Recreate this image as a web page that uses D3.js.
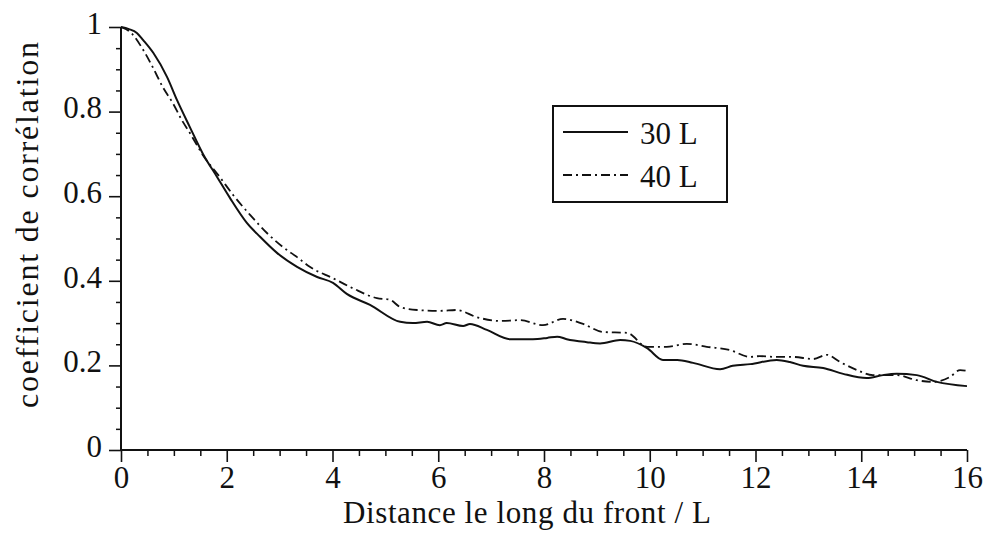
<!DOCTYPE html>
<html>
<head>
<meta charset="utf-8">
<script src="https://cdn.jsdelivr.net/npm/d3@7"></script>
<style>
  html, body { margin: 0; padding: 0; background: #fff; }
  svg { display: block; }
  svg text { font-family: "Liberation Serif", "DejaVu Serif", "Noto Serif", "Times New Roman", Times, serif; fill: #111; }
</style>
</head>
<body>
<svg id="chart" width="986" height="536"></svg>
<script>
// ---- data ----
const xs30 = [0, 0.15, 0.3, 0.42, 0.61, 0.87, 1.06, 1.30, 1.55, 1.82, 2.06, 2.38, 2.63, 2.95, 3.33, 3.71, 4.01, 4.27, 4.71, 5.28, 5.52, 5.79, 6.03, 6.16, 6.47, 6.60, 6.92, 7.36, 7.79, 8.06, 8.25, 8.43, 8.81, 9.06, 9.44, 9.63, 9.95, 10.25, 10.52, 10.82, 11.33, 11.57, 11.9, 12.4, 12.65, 12.9, 13.28, 13.66, 14.1, 14.41, 14.67, 15.05, 15.43, 16.0];
const ys30 = [1.0, 0.995, 0.986, 0.969, 0.939, 0.882, 0.827, 0.764, 0.700, 0.645, 0.596, 0.537, 0.504, 0.466, 0.433, 0.409, 0.395, 0.369, 0.343, 0.303, 0.300, 0.303, 0.295, 0.300, 0.293, 0.298, 0.284, 0.262, 0.262, 0.265, 0.268, 0.262, 0.255, 0.252, 0.260, 0.258, 0.241, 0.213, 0.213, 0.206, 0.191, 0.199, 0.203, 0.213, 0.208, 0.199, 0.194, 0.180, 0.170, 0.177, 0.180, 0.177, 0.161, 0.151];

const xs40 = [0, 0.2, 0.40, 0.6, 0.79, 0.98, 1.15, 1.3, 1.55, 1.87, 2.12, 2.44, 2.76, 3.06, 3.33, 3.57, 4.01, 4.39, 4.84, 5.09, 5.28, 5.60, 6.03, 6.35, 6.73, 7.17, 7.55, 7.98, 8.36, 8.74, 9.12, 9.57, 9.95, 10.32, 10.7, 11.08, 11.52, 11.9, 12.08, 12.4, 12.71, 13.09, 13.35, 13.6, 13.92, 14.22, 14.67, 15.05, 15.36, 15.68, 15.87, 16.0];
const ys40 = [1.0, 0.985, 0.95, 0.905, 0.858, 0.82, 0.78, 0.75, 0.697, 0.645, 0.603, 0.556, 0.513, 0.48, 0.456, 0.433, 0.406, 0.382, 0.359, 0.355, 0.338, 0.331, 0.329, 0.331, 0.314, 0.305, 0.307, 0.295, 0.310, 0.298, 0.279, 0.277, 0.244, 0.244, 0.251, 0.244, 0.236, 0.220, 0.222, 0.220, 0.220, 0.215, 0.225, 0.208, 0.189, 0.177, 0.177, 0.165, 0.161, 0.173, 0.189, 0.187];

const seriesNames = ["30 L", "40 L"];
const xTickValues = [0, 2, 4, 6, 8, 10, 12, 14, 16];
const yTickValues = [0, 0.2, 0.4, 0.6, 0.8, 1];
const yTickLabels = ["0", "0.2", "0.4", "0.6", "0.8", "1"];
const xTitle = "Distance le long du front / L";
const yTitle = "coefficient de corrélation";

// ---- drawing ----
const svg = d3.select("#chart");
const x = d3.scaleLinear().domain([0, 16]).range([121, 967]);
const y = d3.scaleLinear().domain([0, 1]).range([450, 27]);

const ink = "#111";
const serif = "'Liberation Serif', 'DejaVu Serif', 'Noto Serif', 'Times New Roman', Times, serif";

// minor ticks
const xMinor = d3.range(0, 16.001, 0.5).filter(v => Math.abs(v % 2) > 1e-6);
const yMinor = d3.range(0, 1.0001, 0.05).map(v => +v.toFixed(2)).filter(v => Math.abs((v * 10) % 2) > 1e-6);

const gx = svg.append("g").attr("transform", `translate(0,${y(0)})`);
gx.call(d3.axisBottom(x).tickValues(xMinor).tickSize(6).tickFormat(""));
gx.selectAll(".tick line").attr("stroke", ink).attr("stroke-width", 1.5);
const gx2 = svg.append("g").attr("transform", `translate(0,${y(0)})`);
gx2.call(d3.axisBottom(x).tickValues(xTickValues).tickSize(12).tickPadding(2).tickFormat(d3.format("d")));
gx2.attr("font-family", serif);
gx2.selectAll(".tick line").attr("stroke", ink).attr("stroke-width", 1.6);
gx2.selectAll(".tick text").attr("font-size", 31).attr("fill", ink).attr("dy", "0.78em");
svg.selectAll(".domain").remove();

const gy = svg.append("g").attr("transform", `translate(${x(0)},0)`);
gy.call(d3.axisLeft(y).tickValues(yMinor).tickSize(5).tickFormat(""));
gy.selectAll(".tick line").attr("stroke", ink).attr("stroke-width", 1.5);
const gy2 = svg.append("g").attr("transform", `translate(${x(0)},0)`);
gy2.call(d3.axisLeft(y).tickValues(yTickValues).tickSize(12).tickPadding(7).tickFormat((d, i) => yTickLabels[i]));
gy2.attr("font-family", serif);
gy2.selectAll(".tick line").attr("stroke", ink).attr("stroke-width", 1.6);
gy2.selectAll(".tick text").attr("font-size", 31).attr("fill", ink).attr("dy", "0.2em");
svg.selectAll(".domain").remove();

// axis lines
svg.append("line").attr("x1", x(0)).attr("x2", x(16)).attr("y1", y(0)).attr("y2", y(0)).attr("stroke", ink).attr("stroke-width", 2);
svg.append("line").attr("x1", x(0)).attr("x2", x(0)).attr("y1", y(0)).attr("y2", y(1)).attr("stroke", ink).attr("stroke-width", 2);

// titles
svg.append("text").attr("x", 527).attr("y", 523).attr("text-anchor", "middle").attr("font-size", 31)
  .attr("font-family", serif).attr("textLength", 368).attr("lengthAdjust", "spacing").text(xTitle);
svg.append("text").attr("transform", `translate(38,225) rotate(-90)`).attr("text-anchor", "middle").attr("font-size", 32)
  .attr("font-family", serif).attr("textLength", 366).attr("lengthAdjust", "spacing").text(yTitle);

// lines
const line = d3.line().x(d => x(d[0])).y(d => y(d[1])).curve(d3.curveMonotoneX);
const d30 = xs30.map((v, i) => [v, ys30[i]]);
const d40 = xs40.map((v, i) => [v, ys40[i]]);
const dashes = "9,4,2,4";

svg.append("path").datum(d40).attr("d", line).attr("fill", "none").attr("stroke", ink).attr("stroke-width", 1.8).attr("stroke-dasharray", dashes);
svg.append("path").datum(d30).attr("d", line).attr("fill", "none").attr("stroke", ink).attr("stroke-width", 2);

// legend
const lg = svg.append("g");
lg.append("rect").attr("x", 553).attr("y", 106).attr("width", 174).attr("height", 96).attr("fill", "#fff").attr("stroke", ink).attr("stroke-width", 2);
const legendRows = [{ name: seriesNames[0], dash: null, yy: 132 }, { name: seriesNames[1], dash: dashes, yy: 175 }];
legendRows.forEach(r => {
  lg.append("line").attr("x1", 563).attr("x2", 628).attr("y1", r.yy).attr("y2", r.yy)
    .attr("stroke", ink).attr("stroke-width", r.dash ? 1.8 : 2).attr("stroke-dasharray", r.dash);
  lg.append("text").attr("x", 640).attr("y", r.yy + 12).attr("font-size", 31).attr("font-family", serif).text(r.name);
});
</script>
</body>
</html>
